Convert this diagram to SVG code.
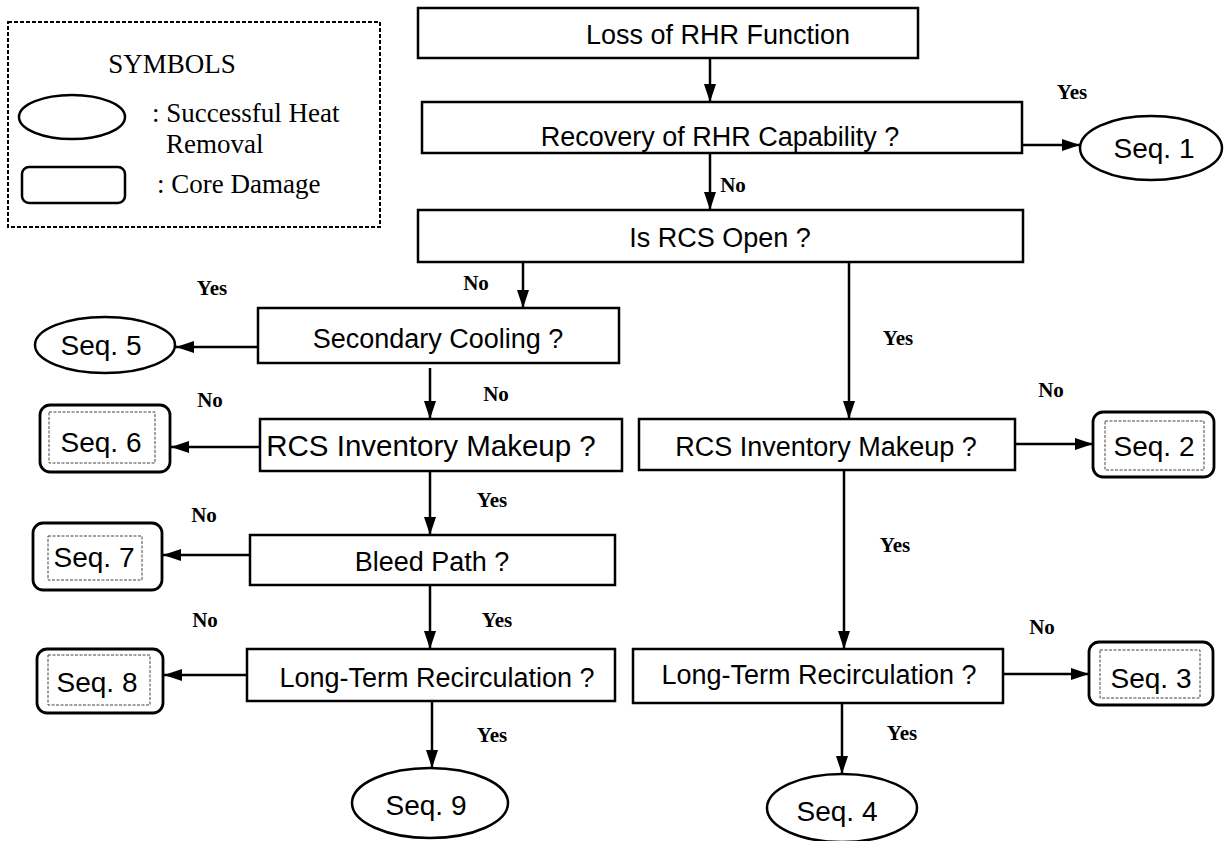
<svg xmlns="http://www.w3.org/2000/svg" width="1224" height="841" viewBox="0 0 1224 841">
<defs>
<style>
.box{fill:#fff;stroke:#000;stroke-width:2.5}
.oval{fill:#fff;stroke:#000;stroke-width:2.5}
.seqo{fill:#fff;stroke:#000;stroke-width:2.8}
.seqi{fill:none;stroke:#444;stroke-width:1;stroke-dasharray:3 1.5}
.t{font-family:"Liberation Sans",Arial,sans-serif;font-size:27px;text-anchor:middle;fill:#000}
.s{font-family:"Liberation Sans",Arial,sans-serif;font-size:28px;text-anchor:middle;fill:#000}
.lbl{font-family:"Liberation Serif","Times New Roman",serif;font-size:21px;font-weight:bold;text-anchor:middle;fill:#000}
.leg{font-family:"Liberation Serif","Times New Roman",serif;font-size:27px;fill:#000}
.c{fill:none;stroke:#000;stroke-width:2.5;marker-end:url(#ah)}
</style>
<marker id="ah" viewBox="0 0 18 12" refX="18" refY="6" markerWidth="18" markerHeight="12" markerUnits="userSpaceOnUse" orient="auto">
<path d="M0,0 L18,6 L0,12 z" fill="#000"/>
</marker>
</defs>
<rect width="1224" height="841" fill="#fff"/>

<g id="legend">
<rect x="8" y="22" width="372" height="205" fill="none" stroke="#000" stroke-width="2" stroke-dasharray="4 2"/>
<text class="leg" x="172" y="73" text-anchor="middle">SYMBOLS</text>
<ellipse class="oval" cx="72" cy="117" rx="53" ry="22"/>
<text class="leg" x="152" y="122">: Successful Heat</text>
<text class="leg" x="166" y="153">Removal</text>
<rect x="22" y="167" width="103" height="36" rx="7" fill="#fff" stroke="#000" stroke-width="2.5"/>
<text class="leg" x="157" y="193">: Core Damage</text>
</g>

<g id="connectors">
<path class="c" d="M710,58 V102"/>
<path class="c" d="M1022,145 H1080"/>
<path class="c" d="M710,153 V210"/>
<path class="c" d="M523,262 V308"/>
<path class="c" d="M849,262 V419"/>
<path class="c" d="M258,347 H176"/>
<path class="c" d="M430,368 V419"/>
<path class="c" d="M260,447 H171"/>
<path class="c" d="M430,471 V535"/>
<path class="c" d="M250,555 H163"/>
<path class="c" d="M430,585 V649"/>
<path class="c" d="M247,675 H164"/>
<path class="c" d="M432,701 V768"/>
<path class="c" d="M1015,444 H1093"/>
<path class="c" d="M844,470 V649"/>
<path class="c" d="M1003,674 H1089"/>
<path class="c" d="M842,703 V774"/>
</g>

<g id="labels">
<text class="lbl" x="1072" y="99">Yes</text>
<text class="lbl" x="733" y="192">No</text>
<text class="lbl" x="476" y="290">No</text>
<text class="lbl" x="898" y="345">Yes</text>
<text class="lbl" x="212" y="295">Yes</text>
<text class="lbl" x="496" y="401">No</text>
<text class="lbl" x="210" y="407">No</text>
<text class="lbl" x="1051" y="397">No</text>
<text class="lbl" x="492" y="507">Yes</text>
<text class="lbl" x="895" y="552">Yes</text>
<text class="lbl" x="204" y="522">No</text>
<text class="lbl" x="497" y="627">Yes</text>
<text class="lbl" x="205" y="627">No</text>
<text class="lbl" x="1042" y="634">No</text>
<text class="lbl" x="492" y="742">Yes</text>
<text class="lbl" x="902" y="740">Yes</text>
</g>

<g id="n-loss"><rect class="box" x="418" y="8" width="500" height="50"/><text class="t" x="718" y="44">Loss of RHR Function</text></g>
<g id="n-recovery"><rect class="box" x="422" y="102" width="600" height="51"/><text class="t" x="720" y="146">Recovery of RHR Capability ?</text></g>
<g id="n-rcsopen"><rect class="box" x="418" y="210" width="605" height="52"/><text class="t" x="720" y="247">Is RCS Open ?</text></g>
<g id="n-secondary"><rect class="box" x="258" y="308" width="361" height="55"/><text class="t" x="438" y="348">Secondary Cooling ?</text></g>
<g id="n-invL"><rect class="box" x="260" y="419" width="362" height="52"/><text class="t" x="431" y="456" style="font-size:29.5px">RCS Inventory Makeup ?</text></g>
<g id="n-bleed"><rect class="box" x="250" y="535" width="365" height="50"/><text class="t" x="432" y="571">Bleed Path ?</text></g>
<g id="n-ltL"><rect class="box" x="247" y="649" width="368" height="52"/><text class="t" x="437" y="687">Long-Term Recirculation ?</text></g>
<g id="n-invR"><rect class="box" x="639" y="419" width="376" height="51"/><text class="t" x="826" y="456">RCS Inventory Makeup ?</text></g>
<g id="n-ltR"><rect class="box" x="633" y="649" width="370" height="54"/><text class="t" x="819" y="684">Long-Term Recirculation ?</text></g>

<g id="seq1"><ellipse class="oval" cx="1151" cy="148" rx="71" ry="32"/><text class="s" x="1154" y="158">Seq. 1</text></g>
<g id="seq5"><ellipse class="oval" cx="105" cy="345" rx="70" ry="28"/><text class="s" x="101" y="355">Seq. 5</text></g>
<g id="seq9"><ellipse class="oval" cx="430" cy="803" rx="78" ry="35"/><text class="s" x="426" y="815">Seq. 9</text></g>
<g id="seq4"><ellipse class="oval" cx="842" cy="808" rx="75" ry="34"/><text class="s" x="837" y="821">Seq. 4</text></g>

<g id="seq6"><rect class="seqo" x="40" y="405" width="130" height="67" rx="10"/><rect class="seqi" x="49" y="412" width="106" height="51"/><text class="s" x="101" y="452">Seq. 6</text></g>
<g id="seq7"><rect class="seqo" x="33" y="523" width="129" height="67" rx="10"/><rect class="seqi" x="48" y="536" width="94" height="44"/><text class="s" x="94" y="567">Seq. 7</text></g>
<g id="seq8"><rect class="seqo" x="37" y="649" width="126" height="64" rx="10"/><rect class="seqi" x="48" y="655" width="102" height="50"/><text class="s" x="97" y="692">Seq. 8</text></g>
<g id="seq2"><rect class="seqo" x="1093" y="412" width="121" height="65" rx="10"/><rect class="seqi" x="1105" y="421" width="99" height="49"/><text class="s" x="1154" y="456">Seq. 2</text></g>
<g id="seq3"><rect class="seqo" x="1089" y="642" width="124" height="63" rx="10"/><rect class="seqi" x="1100" y="650" width="100" height="48"/><text class="s" x="1151" y="688">Seq. 3</text></g>
</svg>
